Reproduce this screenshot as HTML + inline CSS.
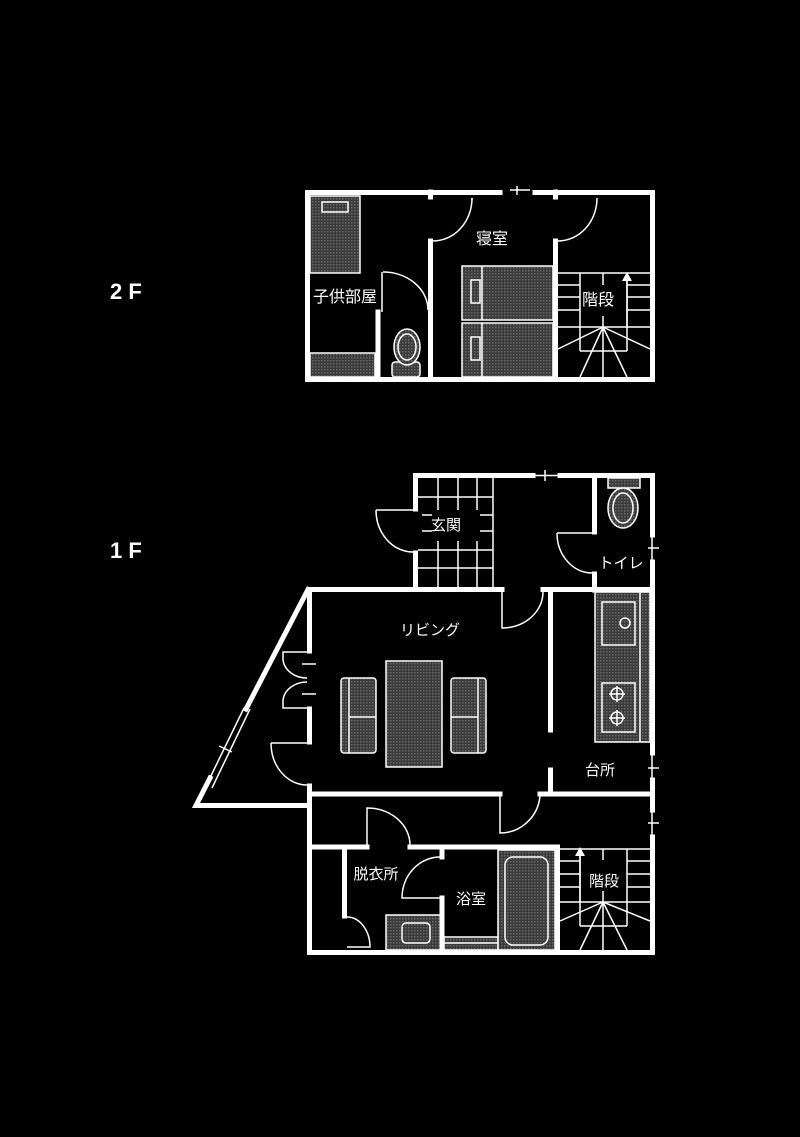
<!DOCTYPE html>
<html><head><meta charset="utf-8"><style>
html,body{margin:0;padding:0;background:#000;}
svg{display:block}
text{font-family:"Liberation Sans","Noto Sans CJK JP",sans-serif;fill:#fff}
</style></head><body>
<svg width="800" height="1137" viewBox="0 0 800 1137" xmlns="http://www.w3.org/2000/svg">
<defs>
<pattern id="h" width="3" height="3" patternUnits="userSpaceOnUse">
<rect width="3" height="3" fill="#3a3a3a"/><rect width="1.5" height="1.5" fill="#6a6a6a"/>
</pattern>
</defs>
<rect width="800" height="1137" fill="#000"/>
<text x="110" y="299" font-size="22" font-weight="bold">2 F</text>
<text x="110" y="558" font-size="22" font-weight="bold">1 F</text>

<!-- ===== 2F ===== -->
<g fill="url(#h)" stroke="#fff" stroke-width="1.5">
<rect x="310" y="196" width="50" height="77"/>
<rect x="310" y="353" width="65" height="24"/>
<rect x="462" y="266" width="91" height="54"/>
<rect x="462" y="323" width="91" height="54"/>
<rect x="392" y="362" width="28" height="15" rx="3"/>
</g>
<g fill="none" stroke="#fff" stroke-width="1.5">
<rect x="322" y="202" width="26" height="10"/>
<line x1="482" y1="266" x2="482" y2="320"/><line x1="482" y1="323" x2="482" y2="377"/>
<rect x="471" y="280" width="9" height="23"/><rect x="471" y="337" width="9" height="23"/>
<ellipse cx="407" cy="347" rx="13" ry="18" fill="url(#h)"/>
<ellipse cx="407" cy="347" rx="9" ry="13"/>
<path d="M472,198 A39,43 0 0 1 433,241"/><line x1="472" y1="198" x2="472" y2="200"/>
<path d="M597,198 A39,43 0 0 1 558,241"/>
<path d="M383,272 A45,38 0 0 1 428,310"/><line x1="382" y1="272" x2="382" y2="312"/>
<line x1="558" y1="273" x2="650" y2="273"/><line x1="558" y1="285" x2="580" y2="285"/><line x1="627" y1="285" x2="650" y2="285"/>
<line x1="558" y1="297" x2="580" y2="297"/><line x1="627" y1="297" x2="650" y2="297"/>
<line x1="558" y1="310" x2="580" y2="310"/><line x1="627" y1="310" x2="650" y2="310"/>
<line x1="558" y1="327" x2="650" y2="327"/>
<line x1="580" y1="273" x2="580" y2="351"/><line x1="627" y1="273" x2="627" y2="351"/><line x1="580" y1="351" x2="627" y2="351"/>
<line x1="603" y1="273" x2="603" y2="285"/><line x1="603" y1="316" x2="603" y2="327"/>
<path d="M603,327 L558,349 M603,327 L580,377 M603,327 L603,377 M603,327 L627,377 M603,327 L650,349"/>
<line x1="627" y1="327" x2="627" y2="280"/>
<line x1="510" y1="190" x2="530" y2="190"/><line x1="517" y1="186" x2="517" y2="195"/>
</g>
<polygon points="627,272 622,281 632,281" fill="#fff"/>
<g stroke="#fff" stroke-width="5" fill="none" stroke-linecap="square">
<path d="M500,192.5 L307.5,192.5 L307.5,379.5 L652.5,379.5 L652.5,192.5 L535,192.5"/>
<line x1="430.5" y1="241" x2="430.5" y2="379"/>
<line x1="430.5" y1="192" x2="430.5" y2="197"/>
<line x1="555.5" y1="241" x2="555.5" y2="379"/>
<line x1="555.5" y1="192" x2="555.5" y2="197"/>
<line x1="378" y1="312" x2="378" y2="379"/>
</g>
<text x="492" y="244" font-size="16" text-anchor="middle">寝室</text>
<text x="345" y="302" font-size="16" text-anchor="middle">子供部屋</text>
<text x="598" y="305" font-size="16" text-anchor="middle">階段</text>

<!-- ===== 1F ===== -->
<g stroke="#fff" stroke-width="1.5" fill="none">
<line x1="438" y1="478" x2="438" y2="510"/><line x1="458" y1="478" x2="458" y2="510"/><line x1="477" y1="478" x2="477" y2="510"/>
<line x1="438" y1="541" x2="438" y2="588"/><line x1="458" y1="541" x2="458" y2="588"/><line x1="477" y1="541" x2="477" y2="588"/>
<line x1="418" y1="497" x2="493" y2="497"/><line x1="418" y1="550" x2="493" y2="550"/><line x1="418" y1="568" x2="493" y2="568"/>
<line x1="493" y1="478" x2="493" y2="588"/>
<line x1="422" y1="515" x2="432" y2="515"/><line x1="422" y1="531" x2="432" y2="531"/>
<line x1="480" y1="515" x2="493" y2="515"/><line x1="480" y1="531" x2="493" y2="531"/>
<path d="M376,510 L413,510 M376,510 A37,42 0 0 0 413,552"/>
<path d="M557,533 L592,533 M557,533 A35,40 0 0 0 592,573"/>
<path d="M502,592 L502,628 A41,36 0 0 0 543,592"/>
<path d="M500,796 L500,833 A40,41 0 0 0 540,796"/>
<path d="M367,845 L367,808 A43,37 0 0 1 410,845"/>
<path d="M440,857 A38,41 0 0 0 402,898 L440,898"/>
<path d="M347,917 A23,30 0 0 1 370,947 L347,947"/>
<path d="M307,652 L283,652 L283,660 A24,20 0 0 0 307,678"/>
<path d="M307,708 L283,708 L283,700 A24,20 0 0 1 307,682"/>
<line x1="302" y1="664" x2="316" y2="664"/><line x1="302" y1="694" x2="316" y2="694"/>
<path d="M271,743 L307,743 M271,743 A36,42 0 0 0 307,785"/>
<path d="M244,708 L206,786 M250,709 L212,788"/>
<line x1="219" y1="746" x2="232" y2="752"/>
<line x1="533" y1="475.5" x2="560" y2="475.5"/><line x1="545" y1="470" x2="545" y2="481"/>
<line x1="652" y1="535" x2="652" y2="562"/><line x1="648" y1="548" x2="659" y2="548"/>
<line x1="652" y1="753" x2="652" y2="780"/><line x1="648" y1="768" x2="659" y2="768"/>
<line x1="652" y1="810" x2="652" y2="837"/><line x1="648" y1="823" x2="659" y2="823"/>
</g>
<g fill="url(#h)" stroke="#fff" stroke-width="1.5">
<rect x="595" y="592" width="55" height="150"/>
<rect x="386" y="661" width="56" height="106"/>
<rect x="341" y="678" width="35" height="75" rx="3"/>
<rect x="451" y="678" width="35" height="75" rx="3"/>
<rect x="608" y="478" width="32" height="10"/>
<ellipse cx="623" cy="508" rx="15" ry="20"/>
<rect x="386" y="915" width="56" height="35"/>
<rect x="444" y="937" width="54" height="13"/>
<rect x="498" y="850" width="57" height="100"/>
</g>
<g fill="none" stroke="#fff" stroke-width="1.5">
<ellipse cx="623" cy="508" rx="10" ry="15"/>
<line x1="640" y1="592" x2="640" y2="742"/>
<rect x="602" y="602" width="33" height="43"/><circle cx="625" cy="623" r="5"/>
<rect x="602" y="683" width="33" height="49"/>
<circle cx="617" cy="694" r="6"/><circle cx="617" cy="718" r="6"/>
<path d="M617,686v16M609,694h16M617,710v16M609,718h16"/>
<line x1="349" y1="678" x2="349" y2="753"/><line x1="349" y1="717" x2="376" y2="717"/>
<line x1="478" y1="678" x2="478" y2="753"/><line x1="451" y1="717" x2="478" y2="717"/>
<rect x="402" y="923" width="28" height="20" rx="4"/>
<rect x="505" y="857" width="43" height="88" rx="8"/>
<line x1="444" y1="943" x2="498" y2="943"/>
<line x1="560" y1="849" x2="650" y2="849"/>
<line x1="580" y1="849" x2="580" y2="926"/><line x1="627" y1="849" x2="627" y2="926"/><line x1="580" y1="926" x2="627" y2="926"/>
<line x1="603" y1="849" x2="603" y2="860"/><line x1="603" y1="891" x2="603" y2="902"/>
<path d="M560,861h20M627,861h23M560,874h20M627,874h23M560,887h20M627,887h23M560,902h90"/>
<path d="M603,902 L560,921 M603,902 L580,950 M603,902 L603,950 M603,902 L627,950 M603,902 L650,921"/>
<line x1="580" y1="902" x2="580" y2="856"/>
</g>
<polygon points="580,847 575,856 585,856" fill="#fff"/>
<g stroke="#fff" stroke-width="5" fill="none" stroke-linecap="square">
<path d="M533,475.5 L415.5,475.5 L415.5,509"/>
<path d="M560,475.5 L652.5,475.5 L652.5,535"/>
<line x1="652.5" y1="562" x2="652.5" y2="753"/>
<line x1="652.5" y1="780" x2="652.5" y2="810"/>
<path d="M652.5,837 L652.5,952.5 L309.5,952.5 L309.5,797"/>
<line x1="415.5" y1="553" x2="415.5" y2="589"/>
<line x1="594.5" y1="475.5" x2="594.5" y2="532"/>
<line x1="594.5" y1="574" x2="594.5" y2="590"/>
<path d="M309.5,651 L309.5,589.5 L502,589.5"/>
<line x1="543" y1="589.5" x2="652" y2="589.5"/>
<line x1="309.5" y1="709" x2="309.5" y2="742"/>
<line x1="309.5" y1="786" x2="309.5" y2="796"/>
<line x1="309.5" y1="794" x2="500" y2="794"/>
<line x1="540" y1="794" x2="652" y2="794"/>
<line x1="550.5" y1="592" x2="550.5" y2="730"/>
<line x1="550.5" y1="770" x2="550.5" y2="794"/>
<line x1="309.5" y1="847" x2="367" y2="847"/>
<line x1="410" y1="847" x2="557" y2="847"/>
<line x1="344.5" y1="849" x2="344.5" y2="916"/>
<line x1="442" y1="849" x2="442" y2="857"/>
<line x1="442" y1="898" x2="442" y2="952"/>
<line x1="557.5" y1="847" x2="557.5" y2="952"/>
<path d="M308,589.5 L246,709 M210,778 L196,805.5 L309,805.5"/>
</g>
<text x="446" y="530" font-size="15" text-anchor="middle">玄関</text>
<text x="621" y="568" font-size="15" text-anchor="middle">トイレ</text>
<text x="430" y="635" font-size="15" text-anchor="middle">リビング</text>
<text x="600" y="775" font-size="15" text-anchor="middle">台所</text>
<text x="376" y="879" font-size="15" text-anchor="middle">脱衣所</text>
<text x="471" y="904" font-size="15" text-anchor="middle">浴室</text>
<text x="604" y="886" font-size="15" text-anchor="middle">階段</text>
</svg>
</body></html>
